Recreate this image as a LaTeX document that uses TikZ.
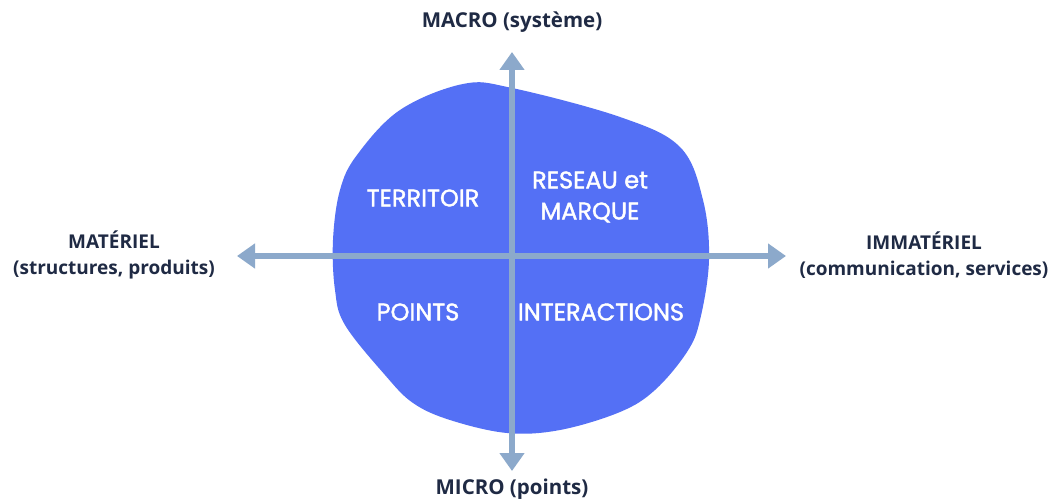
\documentclass[tikz,border=0pt]{standalone}
\usepackage{fontspec}
\setmainfont{Open Sans}
\newfontfamily\quadfont{Poppins}[FakeBold=1.6]
\usetikzlibrary{arrows.meta}
\definecolor{blobblue}{HTML}{5470F5}
\definecolor{axisblue}{HTML}{8CA9CB}
\definecolor{labelnavy}{HTML}{1F2A44}
\tikzset{
  axis/.style={draw=axisblue, line width=6pt, {Triangle[width=24pt,length=18pt]}-{Triangle[width=24pt,length=18pt]}},
  poletext/.style={text=labelnavy, font=\fontsize{19}{26}\selectfont\bfseries, align=center},
  quadtext/.style={text=white, font=\quadfont\fontsize{24}{31}\selectfont, align=center}
}
\begin{document}
\begin{tikzpicture}[x=1pt,y=-1pt]
    \useasboundingbox[fill=white] (0,0) rectangle (1055,502);
    % the blob
    \fill[blobblue] plot[smooth cycle, tension=0.6] coordinates {
      (463,84) (512,88) (620,117) (680,147) (703,200) (709,260) (700,320)
      (687,352) (655,390) (620,412) (560,430) (507,433) (450,420) (413,403)
      (385,375) (345,325) (335,290) (333,240) (340,190) (357,155) (400,110)};
    % axes
    \coordinate (top) at (512,52);
    \coordinate (bottom) at (512,471);
    \coordinate (left) at (237,256);
    \coordinate (right) at (786,256);
    \draw[axis] (bottom) -- (top);
    \draw[axis] (left) -- (right);
    % poles
    \node[poletext, font=\fontsize{20.5}{26}\selectfont\bfseries] (macro) at (512,22) {MACRO (système)};
    \node[poletext, font=\fontsize{20.5}{26}\selectfont\bfseries] (micro) at (512,489) {MICRO (points)};
    \node[poletext] (materiel) at (114,255) {MATÉRIEL\\(structures, produits)};
    \node[poletext] (immateriel) at (924,255) {IMMATÉRIEL\\(communication, services)};
    % quadrants
    \node[quadtext] (territoir) at (423,198) {TERRITOIR};
    \node[quadtext] (reseau) at (590,197) {RESEAU et\\MARQUE};
    \node[quadtext] (points) at (418,312) {POINTS};
    \node[quadtext] (interactions) at (601,312) {INTERACTIONS};
  \end{tikzpicture}
\end{document}
